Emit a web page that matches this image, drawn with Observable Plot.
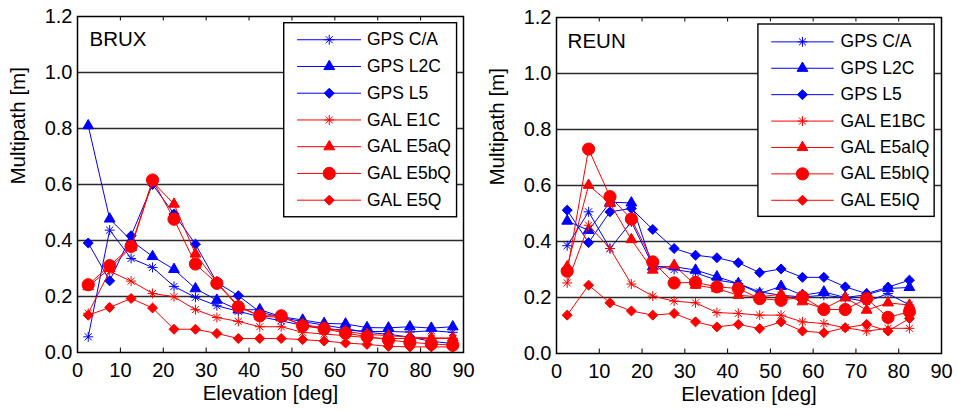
<!DOCTYPE html>
<html>
<head>
<meta charset="utf-8">
<script src="https://cdn.jsdelivr.net/npm/d3@7"></script>
<script src="https://cdn.jsdelivr.net/npm/@observablehq/plot@0.6"></script>
<style>
  html, body { margin: 0; padding: 0; background: #fff; }
  #wrap { display: flex; flex-direction: row; width: 959px; height: 410px; }
</style>
</head>
<body>
<div id="wrap"></div>
<script>
// ---------- data ----------
const xTicks = [0, 10, 20, 30, 40, 50, 60, 70, 80, 90];
const yTicks = [0, 0.2, 0.4, 0.6, 0.8, 1.0, 1.2];
const gridValues = [0.2, 0.4, 0.6, 0.8, 1.0];

const elevBRUX = [2.5, 7.5, 12.5, 17.5, 22.5, 27.5, 32.5, 37.5, 42.5, 47.5, 52.5, 57.5, 62.5, 67.5, 72.5, 77.5, 82.5, 87.5];
const elevREUN = [2.5, 7.5, 12.5, 17.5, 22.5, 27.5, 32.5, 37.5, 42.5, 47.5, 52.5, 57.5, 62.5, 67.5, 72.5, 77.5, 82.5];

const namesBRUX = ["GPS C/A", "GPS L2C", "GPS L5", "GAL E1C", "GAL E5aQ", "GAL E5bQ", "GAL E5Q"];
const namesREUN = ["GPS C/A", "GPS L2C", "GPS L5", "GAL E1BC", "GAL E5aIQ", "GAL E5bIQ", "GAL E5IQ"];

const bruxGpsCA  = [0.056, 0.437, 0.336, 0.304, 0.236, 0.197, 0.167, 0.147, 0.128, 0.113, 0.097, 0.085, 0.080, 0.075, 0.075, 0.073, 0.078, 0.072];
const bruxGpsL2C = [0.810, 0.477, 0.400, 0.343, 0.297, 0.228, 0.187, 0.152, 0.153, 0.128, 0.116, 0.104, 0.102, 0.089, 0.088, 0.092, 0.087, 0.092];
const bruxGpsL5  = [0.391, 0.256, 0.417, 0.600, 0.495, 0.387, 0.250, 0.203, 0.145, 0.125, 0.110, 0.098, 0.085, 0.072, 0.065, 0.055, 0.040, 0.032];
const bruxGalE1C = [0.140, 0.290, 0.255, 0.211, 0.199, 0.153, 0.125, 0.111, 0.092, 0.092, 0.072, 0.066, 0.060, 0.053, 0.050, 0.050, 0.050, 0.050];
const bruxGalE5aQ = [0.235, 0.300, 0.375, 0.610, 0.530, 0.352, 0.250, 0.167, 0.130, 0.125, 0.100, 0.088, 0.075, 0.065, 0.060, 0.055, 0.052, 0.052];
const bruxGalE5bQ = [0.242, 0.310, 0.379, 0.616, 0.476, 0.316, 0.247, 0.163, 0.131, 0.131, 0.095, 0.085, 0.069, 0.057, 0.045, 0.036, 0.031, 0.026];
const bruxGalE5Q = [0.133, 0.161, 0.193, 0.159, 0.083, 0.083, 0.068, 0.050, 0.050, 0.050, 0.046, 0.041, 0.034, 0.029, 0.022, 0.020, 0.020, 0.020];

const reunGpsCA  = [0.385, 0.506, 0.375, 0.470, 0.315, 0.300, 0.288, 0.262, 0.250, 0.220, 0.208, 0.202, 0.208, 0.199, 0.185, 0.214, 0.173];
const reunGpsL2C = [0.473, 0.440, 0.540, 0.538, 0.310, 0.310, 0.298, 0.274, 0.250, 0.214, 0.240, 0.208, 0.220, 0.200, 0.210, 0.232, 0.236];
const reunGpsL5  = [0.512, 0.396, 0.506, 0.518, 0.443, 0.375, 0.351, 0.342, 0.324, 0.289, 0.302, 0.272, 0.272, 0.238, 0.214, 0.237, 0.262];
const reunGalE1BC = [0.252, 0.458, 0.375, 0.248, 0.205, 0.187, 0.181, 0.146, 0.143, 0.137, 0.137, 0.113, 0.107, 0.092, 0.080, 0.090, 0.090];
const reunGalE5aIQ = [0.310, 0.601, 0.536, 0.407, 0.298, 0.315, 0.244, 0.232, 0.208, 0.202, 0.212, 0.185, 0.160, 0.199, 0.155, 0.181, 0.173];
const reunGalE5bIQ = [0.294, 0.730, 0.560, 0.480, 0.327, 0.252, 0.254, 0.238, 0.232, 0.196, 0.190, 0.202, 0.157, 0.157, 0.196, 0.129, 0.149];
const reunGalE5IQ = [0.137, 0.244, 0.181, 0.152, 0.137, 0.143, 0.113, 0.095, 0.104, 0.089, 0.113, 0.080, 0.074, 0.092, 0.104, 0.080, 0.125];

// ---------- styles ----------
const BLUE = "#0000ff", RED = "#ff0000";
const seriesColors = [BLUE, BLUE, BLUE, RED, RED, RED, RED];
const seriesMarkers = ["asterisk", "triangle", "diamond", "asterisk", "triangle", "circle", "diamond"];
const FONT = "'Liberation Sans', Arial, Helvetica, sans-serif";

function markerMarks(data, kind, color) {
  const o = {x: "elev", y: "val"};
  if (kind === "asterisk") return [
    Plot.dot(data, {...o, symbol: "plus", r: 3.3, stroke: color, strokeWidth: 1}),
    Plot.dot(data, {...o, symbol: "times", r: 3.3, stroke: color, strokeWidth: 1})
  ];
  if (kind === "triangle") return [Plot.dot(data, {...o, symbol: "triangle", r: 4.0, fill: color, stroke: color, strokeWidth: 1})];
  if (kind === "diamond") return [Plot.dot(data, {...o, symbol: "diamond2", r: 4.5, fill: color, stroke: color, strokeWidth: 1})];
  return [Plot.dot(data, {...o, symbol: "circle", r: 6.1, fill: color, stroke: color, strokeWidth: 1})];
}

function panel(cfg) {
  const marks = [];
  marks.push(Plot.ruleY(gridValues, {stroke: "#2a2a2a", strokeWidth: 1.4}));
  cfg.series.forEach((vals, i) => {
    const rows = vals.map((v, j) => ({elev: cfg.elev[j], val: v}));
    marks.push(Plot.line(rows, {x: "elev", y: "val", stroke: seriesColors[i], strokeWidth: 1}));
    marks.push(...markerMarks(rows, seriesMarkers[i], seriesColors[i]));
  });
  // legend
  const L = cfg.legend;
  marks.push(Plot.rect([0], {x1: L.x1, x2: L.x2, y1: L.yb, y2: L.yt, fill: "white", stroke: "black", strokeWidth: 1.4}));
  cfg.names.forEach((name, i) => {
    const yy = L.row0 - i * L.step;
    marks.push(Plot.link([0], {x1: L.lx1, x2: L.lx2, y1: yy, y2: yy, stroke: seriesColors[i], strokeWidth: 1}));
    marks.push(...markerMarks([{elev: L.mx, val: yy}], seriesMarkers[i], seriesColors[i]));
    marks.push(Plot.text([name], {x: L.tx, y: yy, text: d => d, textAnchor: "start", fontSize: 17.5, fill: "black"}));
  });
  // station name
  marks.push(Plot.text([cfg.station], {x: cfg.stationX, y: cfg.stationY, text: d => d, textAnchor: "start", fontSize: 20.5, fill: "black"}));
  // inner ticks (bottom & top)
  marks.push(Plot.ruleX(xTicks.slice(1, -1), {x: d => d, y1: 0, y2: 0.016, stroke: "black", strokeWidth: 1}));
  marks.push(Plot.ruleX(xTicks.slice(1, -1), {x: d => d, y1: 1.2, y2: 1.184, stroke: "black", strokeWidth: 1}));
  // axes
  marks.push(Plot.axisX({ticks: xTicks, tickSize: 0, tickPadding: 10, fontSize: 20, label: null, tickFormat: d => String(d)}));
  marks.push(Plot.axisY({ticks: yTicks, tickSize: 0, tickPadding: 5, fontSize: 20, label: null, tickFormat: d3.format(".1f")}));
  marks.push(Plot.text(["Elevation [deg]"], {frameAnchor: "bottom", dy: 41, text: d => d, fontSize: 20.5, lineAnchor: "middle", fill: "black"}));
  marks.push(Plot.text(["Multipath [m]"], {frameAnchor: "left", dx: -59, rotate: -90, text: d => d, fontSize: 20.5, lineAnchor: "middle", fill: "black"}));
  marks.push(Plot.frame({stroke: "black", strokeWidth: 1.5}));

  return Plot.plot({
    width: cfg.width,
    height: 410,
    marginLeft: 77,
    marginRight: cfg.mr,
    marginTop: cfg.mt,
    marginBottom: cfg.mb,
    style: {fontFamily: FONT, fontSize: "20px", color: "black", background: "white", overflow: "visible"},
    x: {domain: [0, 90], inset: 0},
    y: {domain: [0, 1.2], inset: 0},
    marks
  });
}

const wrap = document.getElementById("wrap");
wrap.appendChild(panel({
  width: 479, mr: 16, mt: 16, mb: 58,
  station: "BRUX", stationX: 2.8, stationY: 1.118,
  names: namesBRUX, elev: elevBRUX,
  series: [bruxGpsCA, bruxGpsL2C, bruxGpsL5, bruxGalE1C, bruxGalE5aQ, bruxGalE5bQ, bruxGalE5Q],
  legend: {x1: 48.2, x2: 88.5, yb: 0.483, yt: 1.176, row0: 1.117, step: 0.0955, lx1: 51.2, lx2: 66.1, mx: 58.7, tx: 67.5}
}));
wrap.appendChild(panel({
  width: 480, mr: 18, mt: 17, mb: 57,
  station: "REUN", stationX: 2.6, stationY: 1.116,
  names: namesREUN, elev: elevREUN,
  series: [reunGpsCA, reunGpsL2C, reunGpsL5, reunGalE1BC, reunGalE5aIQ, reunGalE5bIQ, reunGalE5IQ],
  legend: {x1: 47.2, x2: 88.4, yb: 0.488, yt: 1.175, row0: 1.113, step: 0.0943, lx1: 50.2, lx2: 64.8, mx: 57.5, tx: 66.4}
}));
</script>
</body>
</html>
